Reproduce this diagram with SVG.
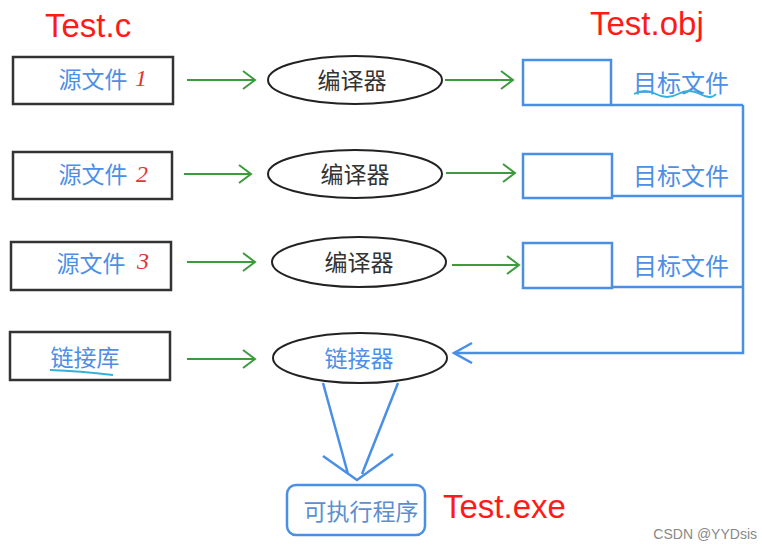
<svg xmlns="http://www.w3.org/2000/svg" width="762" height="545" viewBox="0 0 762 545">
<defs>
<style>
.src{fill:#fff;stroke:#333;stroke-width:2.5}
.ell{fill:#fff;stroke:#222;stroke-width:2}
.obj{fill:#fff;stroke:#4a8fe6;stroke-width:2.5}
.g{stroke:#3d9a3d;stroke-width:2;fill:none}
.b{stroke:#4a8fe6;stroke-width:2.5;fill:none}
.cn{font-family:"Noto Sans CJK SC","Noto Sans",sans-serif;font-size:23px;text-anchor:middle;dominant-baseline:central}
.blue{fill:#4d8fe6}
.dark{fill:#333}
.red{fill:#ff1a1a;font-family:"Liberation Sans",Arial,sans-serif;font-size:33px}
.num{fill:#e03535;font-family:"Liberation Serif",serif;font-style:italic;font-size:24px;dominant-baseline:central}
.sq{stroke:#35b0d8;stroke-width:1.8;fill:none}
</style>
<marker id="ga" markerUnits="userSpaceOnUse" markerWidth="20" markerHeight="22" refX="14" refY="10" orient="auto">
<path d="M2,1 L14,10 L2,19" stroke="#3d9a3d" stroke-width="2" fill="none"/>
</marker>
<marker id="ba" markerUnits="userSpaceOnUse" markerWidth="24" markerHeight="24" refX="20" refY="11" orient="auto">
<path d="M2,1 L20,11 L2,21" stroke="#4a8fe6" stroke-width="2.5" fill="none"/>
</marker>
</defs>
<rect width="762" height="545" fill="#fff"/>

<g id="labels">
<text class="red" x="45" y="37">Test.c</text>
<text class="red" x="590" y="35">Test.obj</text>
<text class="red" x="443" y="518">Test.exe</text>
<text x="757" y="539" text-anchor="end" font-family="Liberation Sans,Arial,sans-serif" font-size="14" fill="#888">CSDN @YYDsis</text>
</g>

<g id="connectors">
<line class="g" x1="187" y1="80" x2="255" y2="80" marker-end="url(#ga)"/>
<line class="g" x1="184" y1="174" x2="251" y2="174" marker-end="url(#ga)"/>
<line class="g" x1="187" y1="262" x2="255" y2="262" marker-end="url(#ga)"/>
<line class="g" x1="187" y1="359" x2="255" y2="359" marker-end="url(#ga)"/>
<line class="g" x1="445" y1="80" x2="513" y2="80" marker-end="url(#ga)"/>
<line class="g" x1="446" y1="173" x2="515" y2="173" marker-end="url(#ga)"/>
<line class="g" x1="452" y1="265" x2="519" y2="265" marker-end="url(#ga)"/>
<path class="b" d="M611,105 H743 M612,196 H743 M612,287 H743"/>
<path class="b" d="M743,105 V353 H454" marker-end="url(#ba)"/>
<path class="b" d="M323,383 L348,474 M398,383 L362,474 M323,456 L357,480 L393,454" stroke-width="2"/>
</g>

<g id="src1">
<rect class="src" x="13" y="57" width="160" height="47"/>
<text class="cn blue" x="93" y="78">源文件</text>
<text class="num" x="135" y="78">1</text>
</g>
<g id="src2">
<rect class="src" x="13" y="152" width="159" height="47"/>
<text class="cn blue" x="93" y="173">源文件</text>
<text class="num" x="136" y="174">2</text>
</g>
<g id="src3">
<rect class="src" x="11" y="242" width="160" height="48"/>
<text class="cn blue" x="91" y="262">源文件</text>
<text class="num" x="137" y="261">3</text>
</g>
<g id="lib">
<rect class="src" x="10" y="332" width="160" height="48"/>
<text class="cn blue" x="85" y="356">链接库</text>
<path class="sq" d="M50,370 Q80,371 113,375"/>
</g>

<g id="comp1">
<ellipse class="ell" cx="355" cy="80" rx="87" ry="24"/>
<text class="cn dark" x="352" y="79">编译器</text>
</g>
<g id="comp2">
<ellipse class="ell" cx="355" cy="174" rx="87" ry="24"/>
<text class="cn dark" x="355" y="173">编译器</text>
</g>
<g id="comp3">
<ellipse class="ell" cx="359" cy="262" rx="87" ry="25"/>
<text class="cn dark" x="359" y="261">编译器</text>
</g>
<g id="linker">
<ellipse class="ell" cx="360" cy="358" rx="87" ry="25"/>
<text class="cn blue" x="359" y="357">链接器</text>
</g>

<g id="obj1">
<rect class="obj" x="523" y="60" width="88" height="45"/>
<text class="cn blue" x="681" y="81" style="font-size:24px">目标文件</text>
<path class="sq" d="M634,94 Q645,88 656,94 T678,94 T700,94 T716,94"/>
</g>
<g id="obj2">
<rect class="obj" x="523" y="154" width="89" height="44"/>
<text class="cn blue" x="681" y="174" style="font-size:24px">目标文件</text>
</g>
<g id="obj3">
<rect class="obj" x="523" y="243" width="89" height="45"/>
<text class="cn blue" x="681" y="264" style="font-size:24px">目标文件</text>
</g>

<g id="exe">
<rect x="287" y="485" width="138" height="50" rx="9" fill="#fff" stroke="#4a8fe6" stroke-width="2.5"/>
<text class="cn" x="361" y="510" fill="#5a8fd0">可执行程序</text>
</g>
</svg>
